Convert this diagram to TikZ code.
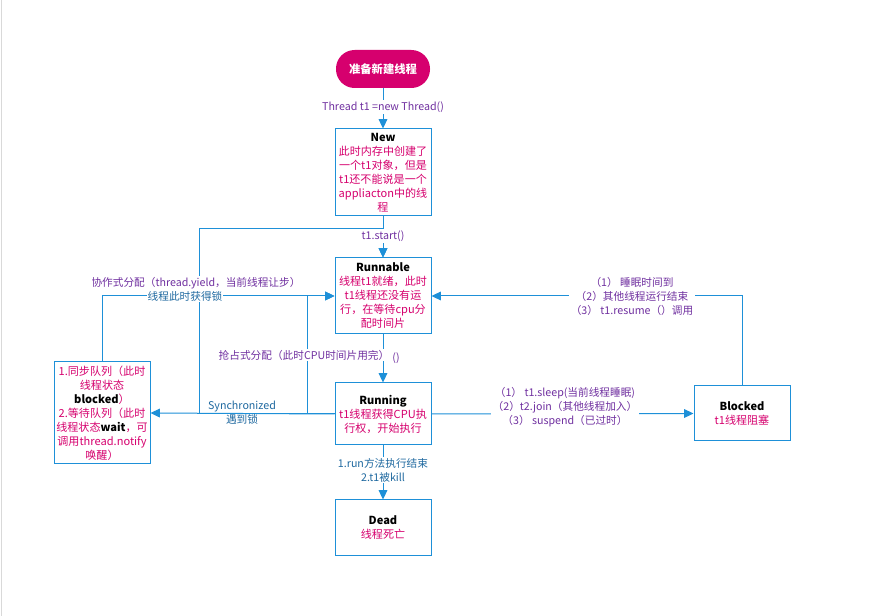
\documentclass[tikz,border=0pt]{standalone}
\usepackage{fontspec}
\setmainfont{Noto Sans CJK SC}
\usetikzlibrary{arrows.meta}
\definecolor{lineblue}{RGB}{30,144,216}
\definecolor{mag}{RGB}{214,0,110}
\definecolor{purp}{RGB}{112,48,160}
\definecolor{tealt}{RGB}{31,105,160}
\tikzset{
  box/.style={draw=lineblue, line width=0.75pt, fill=white, minimum width=72pt, align=center,
    font=\fontsize{8.3}{10.5}\selectfont, text=mag, inner sep=0pt},
  arr/.style={draw=lineblue, line width=0.75pt, -{Triangle[length=7pt,width=6.5pt]}},
  ln/.style={draw=lineblue, line width=0.75pt},
  lbl/.style={fill=white, inner sep=1pt, align=center, font=\fontsize{8}{10.5}\selectfont},
}
\newcommand{\ttl}[1]{\textbf{\color{black}#1}}
\begin{document}
\begin{tikzpicture}[x=0.75pt,y=-0.75pt]
\useasboundingbox (0,0) rectangle (869,616);
\fill[white] (0,0) rectangle (869,616);
\draw[black!15, line width=0.75pt] (1,0) -- (1,616);

% nodes
\node[fill=mag, text=white, rounded corners=14pt, minimum width=70.5pt, minimum height=28.5pt,
  font=\fontsize{8.5}{10}\selectfont\bfseries, inner sep=0pt] (start) at (383,69) {准备新建线程};
\node[box, minimum height=65.25pt] (new) at (383,172.5)
  {\ttl{New}\\此时内存中创建了\\一个t1对象，但是\\t1还不能说是一个\\appliacton中的线\\程};
\node[box, minimum height=57pt] (runnable) at (383,296)
  {\ttl{Runnable}\\线程t1就绪，此时\\t1线程还没有运\\行，在等待cpu分\\配时间片};
\node[box, minimum height=46.5pt] (running) at (383,414)
  {\ttl{Running}\\t1线程获得CPU执\\行权，开始执行};
\node[box, minimum height=42pt] (dead) at (383,528)
  {\ttl{Dead}\\线程死亡};
\node[box, minimum height=41.25pt] (blocked) at (742,413.5)
  {\ttl{Blocked}\\t1线程阻塞};
\node[box, minimum height=76.5pt] (queue) at (102,413)
  {1.同步队列（此时\\线程状态\\\ttl{blocked}）\\2.等待队列（此时\\线程状态\ttl{wait}，可\\调用thread.notify\\唤醒）};

\coordinate (c1) at (199,229);
\coordinate (c2) at (307,296);

% connectors
\draw[arr] (start) -- (new);
\draw[arr] (new) -- (runnable);
\draw[arr] (runnable) -- (running);
\draw[arr] (running) -- (dead);
\draw[arr] (running.west) -- (queue.east);
\draw[arr] (running.west) -| (c1) -| (runnable.north);
\draw[arr] (running.west) -| (c2) -- (runnable.west);
\draw[arr] (queue.north) |- (runnable.west);
\draw[arr] (running.east) -- (blocked.west);
\draw[arr] (blocked.north) |- (runnable.east);

% labels
\node[lbl, text=purp] (l1) at (383,107) {Thread t1 =new Thread()};
\node[lbl, text=purp] (l2) at (383,236) {t1.start()};
\node[lbl, text=purp] (l3x) at (396,358) {()};
\node[lbl, text=purp] (l3) at (304,355) {抢占式分配（此时CPU时间片用完）};
\node[lbl, text=purp] (l4) at (196,283) {协作式分配（thread.yield，当前线程让步）};
\node[lbl, text=tealt, inner sep=0.5pt] (l5) at (185,296) {线程此时获得锁};
\node[lbl, text=tealt, fill=none] (l6) at (242,413) {Synchronized\\遇到锁};
\node[lbl, text=purp] (l7) at (565,407) {（1） t1.sleep(当前线程睡眠)\\（2）t2.join（其他线程加入）\\（3） suspend（已过时）};
\node[lbl, text=purp] (l8) at (632,296) {（1） 睡眠时间到\\（2）其他线程运行结束\\（3） t1.resume（）调用};
\node[lbl, text=tealt] (l9) at (383,470) {1.run方法执行结束\\2.t1被kill};
\end{tikzpicture}
\end{document}
